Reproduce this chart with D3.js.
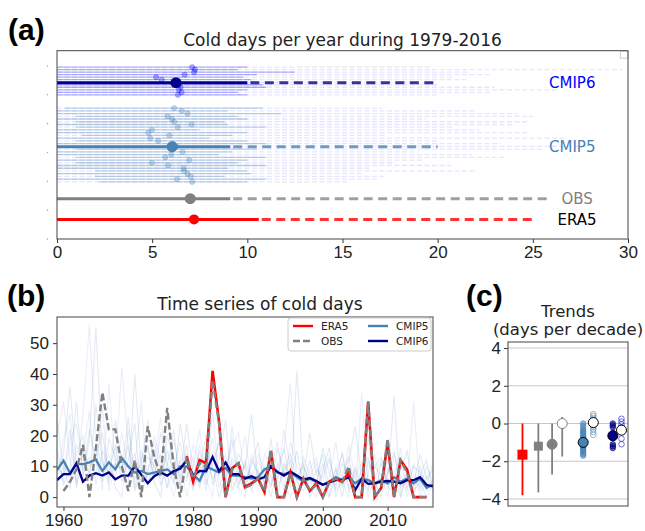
<!DOCTYPE html>
<html>
<head>
<meta charset="utf-8">
<script src="https://cdn.jsdelivr.net/npm/d3@7"></script>
<style>
  body { margin: 0; background: #fff; }
  svg { font-family: "DejaVu Sans", sans-serif; }
  .tick text { fill: #222; }
</style>
</head>
<body>
<svg id="fig" width="645" height="531"></svg>
<script>
// ---------------- data: panel (a) ----------------
const mainNames = ["CMIP6", "CMIP5", "OBS", "ERA5"];
const mainP10 = [0, 0, 0, 0];
const mainP90 = [10.0, 9.1, 9.1, 10.6];
const mainMean = [6.25, 6.05, 7.0, 7.2];
const mainMax = [20.0, 20.0, 26.0, 25.0];

const cmip6P10 = [0, 0, 0, 0, 0, 0, 0, 0, 0, 0, 0, 0];
const cmip6P90 = [10.0, 9.5, 12.5, 10.5, 9.8, 10.2, 8.0, 10.8, 11.0, 10.0, 9.5, 10.0];
const cmip6Mean = [7.1, 7.25, 7.2, 6.7, 5.2, 5.5, 6.2, 6.4, 6.5, 6.4, 6.55, 6.35];
const cmip6Max = [19.7, 29.7, 21.7, 22.8, 20.9, 21.5, 19.0, 20.0, 23.0, 26.3, 22.8, 20.0];

const cmip5P10 = [0.4, 0, 0, 1.0, 0, 1.0, 0, 1.0, 0, 0, 1.3, 0, 1.0, 0, 0, 1.0, 0, 0, 1.0, 0, 1.0, 0, 0, 2.0, 0, 2.0, 0, 2.2];
const cmip5P90 = [10.8, 9.0, 11.8, 9.5, 10.0, 8.8, 9.0, 11.0, 7.5, 10.0, 9.2, 8.0, 10.0, 11.0, 9.1, 10.5, 9.2, 8.5, 11.0, 10.0, 9.5, 11.0, 9.0, 10.0, 10.2, 8.8, 11.0, 10.0];
const cmip5Mean = [6.16, 6.56, 6.86, 5.81, 6.04, 6.16, 7.07, 6.34, 4.99, 4.79, 5.9, 4.9, 5.32, 6.1, 6.28, 6.0, 6.6, 6.0, 5.69, 6.95, 4.99, 5.84, 6.65, 6.68, 6.86, 7.03, 6.3, 7.1];
const cmip5Max = [17.1, 22.0, 24.2, 25.0, 19.4, 24.7, 23.9, 20.8, 22.2, 24.8, 17.3, 26.8, 20.1, 23.3, 28.0, 25.5, 19.0, 21.8, 23.6, 19.2, 17.8, 20.7, 16.4, 22.0, 16.0, 17.3, 16.9, 15.4];

const xTicksA = [0, 5, 10, 15, 20, 25, 30];

// ---------------- data: panel (b) ----------------
const years = d3.range(1959, 2018);   // 1959..2017
const obsYears = d3.range(1960, 2017);
const obsDays = [2, 5, 9, 17, 0, 16, 34, 22, 22, 10, 2, 12, 0, 23, 13, 7, 29, 10, 0,
  13, 6, 11, 10, 38, 24, 0, 9, 11, 3, 4, 6, 2, 15, 0, 0, 8, 0, 6, 2, 4, 0, 5, 6, 5, 10, 0, 0,
  31, 0, 3, 19, 0, 12, 8, 0, 0, 0];
const era5Years = d3.range(1979, 2017);
const era5Days = [13.3, 5, 12, 11, 41, 24.5, 0, 9.4, 11, 3.3, 4.5, 6, 1.7, 15, 0, 0, 8, 0, 6, 2,
  4.5, 0, 5, 6, 5, 8, 0, 0, 31, 0, 3, 17.5, 0, 12, 9, 0, 0, 0];
const cmip5MeanDays = [8.8, 11.8, 7.8, 10.7, 10.7, 11.3, 12.2, 8.5, 11.3, 9, 12.7, 10, 8, 8.5, 7.5, 8, 8.5, 9, 7.5, 10,
  10, 7.3, 5.3, 10, 9, 8, 9.5, 7, 7, 6.5, 6, 6.5, 9, 10, 8, 7.5, 8, 6.5, 5, 6,
  5, 4, 5, 6.5, 5.5, 6.5, 4.5, 6, 5.5, 4.5, 5.5, 4.5, 6.5, 5, 6, 4.5, 6, 3, 4];
const cmip6MeanDays = [5.5, 7.5, 7.5, 11, 5, 7, 7.8, 7, 8, 5.8, 7, 7, 10, 7.3, 4.5, 6.8, 8, 7, 8.5, 9.2,
  12, 7, 8.5, 8.4, 13, 8.4, 11.3, 7.5, 7.5, 6, 6.8, 5.7, 6.5, 10, 8.2, 7, 8.3, 7, 5.7, 6.2,
  5.2, 4, 4.8, 5.5, 5.7, 6.5, 2.3, 6, 4.3, 4.5, 5, 5.3, 5, 4.5, 5.5, 5.5, 6.5, 4, 3.5];
// individual model members (faint lines)
const member1 = [20, 31, 12, 5, 27, 56, 18, 9, 14, 3, 0, 22, 8, 15, 4, 11, 26, 7, 0, 13,
  9, 2, 17, 6, 0, 21, 5, 12, 3, 0, 14, 7, 2, 9, 18, 4, 0, 6, 11, 3,
  0, 8, 13, 2, 5, 0, 10, 4, 7, 0, 3, 12, 6, 0, 9, 2, 5, 0, 4];
const member2 = [8, 14, 36, 10, 6, 19, 55, 12, 4, 25, 11, 3, 40, 9, 17, 5, 0, 20, 13, 6,
  24, 8, 3, 15, 10, 0, 7, 19, 4, 11, 2, 9, 0, 13, 6, 16, 3, 41, 8, 0,
  5, 11, 0, 7, 14, 3, 9, 0, 12, 5, 0, 8, 15, 3, 6, 0, 10, 2, 6];
const member3 = [12, 5, 18, 24, 9, 13, 7, 30, 2, 10, 42, 16, 6, 11, 25, 8, 14, 3, 19, 7,
  5, 17, 11, 2, 28, 6, 0, 13, 9, 20, 4, 12, 7, 0, 10, 15, 37, 5, 2, 9,
  13, 0, 6, 18, 4, 8, 0, 34, 3, 10, 7, 0, 14, 5, 2, 11, 0, 6, 3];
const member4 = [25, 9, 3, 14, 20, 6, 30, 11, 8, 17, 5, 12, 24, 0, 9, 15, 4, 10, 22, 3,
  14, 6, 9, 20, 4, 12, 25, 2, 8, 5, 10, 18, 3, 7, 0, 11, 6, 15, 4, 12,
  2, 9, 16, 0, 7, 13, 3, 5, 20, 0, 11, 4, 0, 9, 15, 3, 7, 12, 2];
const member5 = [5, 19, 27, 4, 11, 8, 16, 2, 37, 9, 14, 6, 10, 31, 3, 18, 9, 27, 5, 12,
  0, 10, 22, 7, 15, 3, 9, 16, 21, 6, 8, 3, 14, 10, 5, 22, 9, 2, 13, 7,
  11, 4, 0, 10, 3, 17, 6, 0, 8, 14, 2, 9, 5, 16, 0, 7, 3, 10, 5];
const member6 = [16, 4, 9, 31, 7, 22, 12, 5, 19, 13, 8, 26, 3, 13, 16, 6, 21, 11, 4, 24,
  10, 6, 15, 4, 11, 18, 3, 7, 14, 9, 27, 5, 10, 3, 16, 8, 12, 0, 6, 21,
  7, 14, 3, 9, 0, 12, 23, 6, 2, 10, 13, 5, 33, 0, 8, 4, 14, 6, 9];
const member7 = [3, 10, 6, 17, 13, 28, 4, 15, 10, 6, 21, 9, 14, 5, 7, 20, 12, 3, 9, 18,
  6, 13, 4, 9, 19, 7, 14, 5, 3, 12, 6, 14, 9, 4, 11, 2, 18, 10, 7, 3,
  9, 6, 12, 4, 15, 2, 7, 11, 0, 6, 12, 3, 8, 11, 4, 31, 2, 7, 4];
const member8 = [10, 7, 22, 3, 15, 10, 13, 21, 6, 11, 9, 17, 2, 8, 13, 10, 6, 15, 8, 4,
  17, 3, 8, 12, 6, 10, 4, 23, 7, 2, 12, 8, 5, 19, 3, 9, 14, 6, 10, 5,
  4, 16, 8, 3, 11, 6, 2, 9, 13, 3, 6, 17, 2, 7, 3, 10, 8, 4, 11];
const memberSeries = [member1, member2, member3, member4, member5, member6, member7, member8];
const xTicksB = [1960, 1970, 1980, 1990, 2000, 2010];
const yTicksB = [0, 10, 20, 30, 40, 50];

// ---------------- data: panel (c) ----------------
const trendPos = [1.0, 2.1, 3.05, 3.75];
const trendVal = [-1.65, -1.2, -1.1, 0.0];
const trendLo = [-3.8, -3.65, -2.7, -1.75];
const trendHi = [0.0, 0.0, 0.0, 0.35];
const trendShape = ["square", "square", "circle", "circle"];
const cmip5TrendPos = [5.2, 5.9];
const cmip5Trends = [0, -0.15, -0.3, -0.4, -0.5, -0.6, -0.7, -0.75, -0.85, -0.9, -1.0, -1.05, -1.1, -1.2, -1.25, -1.3, -1.4, -1.5, -1.6, -1.7];
const cmip5TrendsAlt = [0.5, 0.4, 0.3, 0.2, 0.1, 0.0, -0.1, -0.2, -0.3, -0.45, -0.6];
const cmip5TrendMean = [-1.0, 0.05];
const cmip6TrendPos = [7.25, 7.85];
const cmip6Trends = [0.0, -0.1, -0.2, -0.5, -0.6, -0.75, -1.1, -1.2, -1.3];
const cmip6TrendsAlt = [0.25, 0.1, -0.05, -0.2, -0.45, -0.8, -1.1];
const cmip6TrendMean = [-0.65, -0.35];
const yTicksC = [-4, -2, 0, 2, 4];

// ---------------- drawing ----------------
const svg = d3.select("#fig");
const frameColor = "#444";

function styleAxis(g, size) {
  g.select(".domain").remove();
  g.selectAll(".tick line").attr("stroke", "#333");
  g.selectAll(".tick text").style("font-size", size + "px");
}

// ===== panel (a) =====
const xA = d3.scaleLinear().domain([0, 30]).range([57, 628]);
const yA = d3.scaleLinear().domain([0, 6.53]).range([239, 50.7]);
const rowY = { CMIP6: 5.42, CMIP5: 3.2, OBS: 1.4, ERA5: 0.68 };
const mainColor = { CMIP6: "#00008b", CMIP5: "#4682b4", OBS: "#808080", ERA5: "#ff0000" };
const dashColor = { CMIP6: "#33339f", CMIP5: "#6b9bc3", OBS: "#a0a0a0", ERA5: "#ff3333" };

svg.append("text").attr("x", 8).attr("y", 40)
  .style("font-family", "'Liberation Sans', Arial, sans-serif")
  .style("font-weight", "bold").style("font-size", "30px").text("(a)");
svg.append("text").attr("x", (xA.range()[0] + xA.range()[1]) / 2).attr("y", 46)
  .attr("text-anchor", "middle").style("font-size", "17px").attr("fill", "#222")
  .text("Cold days per year during 1979-2016");

const gA = svg.append("g");

function drawMembers(p10, p90, mean, max, band, solidCol, solidOp, dotCol) {
  const yP = d3.scalePoint().domain(d3.range(p10.length)).range([yA(band[0]), yA(band[1])]);
  const idx = d3.range(p10.length);
  gA.append("g").selectAll("line").data(idx).join("line")
    .attr("x1", xA(0)).attr("x2", i => xA(max[i]))
    .attr("y1", i => yP(i)).attr("y2", i => yP(i))
    .attr("stroke", "#0000ff").attr("stroke-opacity", 0.1)
    .attr("stroke-width", 1.3).attr("stroke-dasharray", "5,2.5");
  gA.append("g").selectAll("line").data(idx).join("line")
    .attr("x1", i => xA(p10[i])).attr("x2", i => xA(p90[i]))
    .attr("y1", i => yP(i)).attr("y2", i => yP(i))
    .attr("stroke", solidCol).attr("stroke-opacity", solidOp).attr("stroke-width", 1.3);
  gA.append("g").selectAll("circle").data(idx).join("circle")
    .attr("cx", i => xA(mean[i])).attr("cy", i => yP(i)).attr("r", 2.6)
    .attr("fill", dotCol).attr("fill-opacity", 0.3)
    .attr("stroke", dotCol).attr("stroke-opacity", 0.3).attr("stroke-width", 0.8);
}
drawMembers(cmip6P10, cmip6P90, cmip6Mean, cmip6Max, [5.96, 5.0], "#0000ff", 0.3, "#0000ff");
drawMembers(cmip5P10, cmip5P90, cmip5Mean, cmip5Max, [4.54, 1.98], "#4682b4", 0.35, "#4682b4");

// main rows
mainNames.forEach((name, i) => {
  const y = yA(rowY[name]);
  gA.append("line").attr("x1", xA(mainP90[i])).attr("x2", xA(mainMax[i]))
    .attr("y1", y).attr("y2", y).attr("stroke", dashColor[name])
    .attr("stroke-width", 3).attr("stroke-dasharray", "9,5.5").attr("stroke-dashoffset", -3);
  gA.append("line").attr("x1", xA(mainP10[i])).attr("x2", xA(mainP90[i]))
    .attr("y1", y).attr("y2", y).attr("stroke", mainColor[name]).attr("stroke-width", 3);
  gA.append("circle").attr("cx", xA(mainMean[i])).attr("cy", y)
    .attr("r", name === "ERA5" ? 5 : 5.5).attr("fill", mainColor[name]);
});

const labelStyle = [
  { name: "CMIP6", x: 25.85, col: "#0000ff" },
  { name: "CMIP5", x: 25.85, col: "#4682b4" },
  { name: "OBS", x: 26.5, col: "#808080" },
  { name: "ERA5", x: 26.3, col: "#000000" }
];
labelStyle.forEach(d => {
  gA.append("text").attr("x", xA(d.x)).attr("y", yA(rowY[d.name]) + 5.5)
    .style("font-size", "15px").attr("fill", d.col).text(d.name);
});

// tiny empty legend box top-right
gA.append("rect").attr("x", xA(29.6)).attr("y", yA(6.53) + 0.5).attr("width", 7.5).attr("height", 7)
  .attr("fill", "#fff").attr("stroke", "#ccc").attr("stroke-width", 1);

// y tick marks (unlabelled)
gA.append("g").selectAll("circle").data(d3.range(0, 7)).join("circle")
  .attr("cx", xA(0) - 9.5).attr("cy", d => yA(d)).attr("r", 0.8).attr("fill", "#aaa");

const axA = gA.append("g").attr("transform", `translate(0,${yA(0)})`)
  .call(d3.axisBottom(xA).tickValues(xTicksA).tickSize(4).tickPadding(3));
styleAxis(axA, 17);
gA.append("rect").attr("x", xA(0)).attr("y", yA(6.53)).attr("width", xA(30) - xA(0))
  .attr("height", yA(0) - yA(6.53)).attr("fill", "none").attr("stroke", frameColor).attr("stroke-width", 1);

// ===== panel (b) =====
const xB = d3.scaleLinear().domain([1959, 2017]).range([57, 433]);
const yB = d3.scaleLinear().domain([-3.2, 58.5]).range([507, 317]);

svg.append("text").attr("x", 7).attr("y", 306)
  .style("font-family", "'Liberation Sans', Arial, sans-serif")
  .style("font-weight", "bold").style("font-size", "30px").text("(b)");
svg.append("text").attr("x", (xB.range()[0] + xB.range()[1]) / 2 + 15).attr("y", 310)
  .attr("text-anchor", "middle").style("font-size", "17px").attr("fill", "#222")
  .text("Time series of cold days");

svg.append("clipPath").attr("id", "clipB").append("rect")
  .attr("x", xB(1959)).attr("y", yB(58.5)).attr("width", xB(2017) - xB(1959)).attr("height", yB(-3.2) - yB(58.5));
const gB = svg.append("g").attr("clip-path", "url(#clipB)");

const lineB = (xs) => d3.line().x((d, i) => xB(xs[i])).y(d => yB(d));

memberSeries.forEach((s, k) => {
  gB.append("path").datum(s).attr("d", lineB(years))
    .attr("fill", "none").attr("stroke", k % 2 ? "#4682b4" : "#3a4fc0")
    .attr("stroke-opacity", k % 2 ? 0.16 : 0.1).attr("stroke-width", 1.1);
});
gB.append("path").datum(cmip5MeanDays).attr("d", lineB(years))
  .attr("fill", "none").attr("stroke", "#4682b4").attr("stroke-width", 2.3);
gB.append("path").datum(cmip6MeanDays).attr("d", lineB(years))
  .attr("fill", "none").attr("stroke", "#00008b").attr("stroke-width", 2.3);
gB.append("path").datum(era5Days).attr("d", lineB(era5Years))
  .attr("fill", "none").attr("stroke", "#ff0000").attr("stroke-width", 2.6);
gB.append("path").datum(obsDays).attr("d", lineB(obsYears))
  .attr("fill", "none").attr("stroke", "#808080").attr("stroke-width", 2.4)
  .attr("stroke-dasharray", "7,3");

const axBx = svg.append("g").attr("transform", `translate(0,${yB(-3.2)})`)
  .call(d3.axisBottom(xB).tickValues(xTicksB).tickFormat(d3.format("d")).tickSize(4).tickPadding(3));
styleAxis(axBx, 17);
const axBy = svg.append("g").attr("transform", `translate(${xB(1959)},0)`)
  .call(d3.axisLeft(yB).tickValues(yTicksB).tickSize(4).tickPadding(4));
styleAxis(axBy, 17);
svg.append("rect").attr("x", xB(1959)).attr("y", yB(58.5)).attr("width", xB(2017) - xB(1959))
  .attr("height", yB(-3.2) - yB(58.5)).attr("fill", "none").attr("stroke", frameColor).attr("stroke-width", 1);

// legend
const legendItems = [
  { name: "ERA5", col: "#ff0000", dash: null, c: 0, r: 0 },
  { name: "OBS", col: "#808080", dash: "7,3", c: 0, r: 1 },
  { name: "CMIP5", col: "#4682b4", dash: null, c: 1, r: 0 },
  { name: "CMIP6", col: "#00008b", dash: null, c: 1, r: 1 }
];
const lg = svg.append("g").attr("transform", `translate(${xB(2017) - 145},${yB(58.5) + 1})`);
lg.append("rect").attr("width", 143).attr("height", 33).attr("rx", 3)
  .attr("fill", "#fff").attr("fill-opacity", 0.85).attr("stroke", "#ccc");
legendItems.forEach(d => {
  const gx = 5 + d.c * 75, gy = 8 + d.r * 15;
  lg.append("line").attr("x1", gx).attr("x2", gx + 20).attr("y1", gy).attr("y2", gy)
    .attr("stroke", d.col).attr("stroke-width", 2.4).attr("stroke-dasharray", d.dash);
  lg.append("text").attr("x", gx + 28).attr("y", gy + 4).style("font-size", "10.5px")
    .attr("fill", "#222").text(d.name);
});

// ===== panel (c) =====
const xC = d3.scaleLinear().domain([0, 8.3]).range([508, 628]);
const yC = d3.scaleLinear().domain([-4.37, 4.32]).range([506, 342]);

svg.append("text").attr("x", 466).attr("y", 306)
  .style("font-family", "'Liberation Sans', Arial, sans-serif")
  .style("font-weight", "bold").style("font-size", "30px").text("(c)");
svg.append("text").attr("x", 568).attr("y", 317).attr("text-anchor", "middle")
  .style("font-size", "16.5px").attr("fill", "#222").text("Trends");
svg.append("text").attr("x", 568).attr("y", 335).attr("text-anchor", "middle")
  .style("font-size", "16.5px").attr("fill", "#222").text("(days per decade)");

const gC = svg.append("g");
gC.append("g").selectAll("line").data(yTicksC).join("line")
  .attr("x1", xC(0)).attr("x2", xC(8.3)).attr("y1", d => yC(d)).attr("y2", d => yC(d))
  .attr("stroke", "#c8c8c8").attr("stroke-width", 1);

const trendCol = ["#ff0000", "#808080", "#808080", "#808080"];
trendPos.forEach((p, i) => {
  gC.append("line").attr("x1", xC(p)).attr("x2", xC(p))
    .attr("y1", yC(trendHi[i])).attr("y2", yC(trendLo[i]))
    .attr("stroke", trendCol[i]).attr("stroke-width", 1.8);
  if (trendShape[i] === "square") {
    const s = i === 0 ? 10 : 9;
    gC.append("rect").attr("x", xC(p) - s / 2).attr("y", yC(trendVal[i]) - s / 2)
      .attr("width", s).attr("height", s).attr("fill", trendCol[i]);
  } else {
    gC.append("circle").attr("cx", xC(p)).attr("cy", yC(trendVal[i])).attr("r", 5)
      .attr("fill", i === 3 ? "#fff" : trendCol[i]).attr("stroke", trendCol[i]).attr("stroke-width", 1);
  }
});

function ensembleDots(pos, vals, col, filled) {
  gC.append("g").selectAll("circle").data(vals).join("circle")
    .attr("cx", xC(pos)).attr("cy", d => yC(d)).attr("r", 2.8)
    .attr("fill", filled ? col : "none").attr("fill-opacity", filled ? 0.55 : 0)
    .attr("stroke", col).attr("stroke-opacity", filled ? 0.6 : 0.55).attr("stroke-width", 1);
}
ensembleDots(cmip5TrendPos[0], cmip5Trends, "#4682b4", true);
ensembleDots(cmip5TrendPos[1], cmip5TrendsAlt, "#4682b4", false);
ensembleDots(cmip6TrendPos[0], cmip6Trends, "#00008b", true);
ensembleDots(cmip6TrendPos[1], cmip6TrendsAlt, "#0000cc", false);

const meanMarks = [
  { pos: cmip5TrendPos[0], v: cmip5TrendMean[0], fill: "#4682b4" },
  { pos: cmip5TrendPos[1], v: cmip5TrendMean[1], fill: "#fff" },
  { pos: cmip6TrendPos[0], v: cmip6TrendMean[0], fill: "#00008b" },
  { pos: cmip6TrendPos[1], v: cmip6TrendMean[1], fill: "#fff" }
];
gC.append("g").selectAll("circle").data(meanMarks).join("circle")
  .attr("cx", d => xC(d.pos)).attr("cy", d => yC(d.v)).attr("r", 5)
  .attr("fill", d => d.fill).attr("stroke", "#000").attr("stroke-width", 1);

const axCy = svg.append("g").attr("transform", `translate(${xC(0)},0)`)
  .call(d3.axisLeft(yC).tickValues(yTicksC).tickSize(4).tickPadding(3));
styleAxis(axCy, 17);
svg.append("rect").attr("x", xC(0)).attr("y", yC(4.32)).attr("width", xC(8.3) - xC(0))
  .attr("height", yC(-4.37) - yC(4.32)).attr("fill", "none").attr("stroke", frameColor).attr("stroke-width", 1);
</script>
</body>
</html>
